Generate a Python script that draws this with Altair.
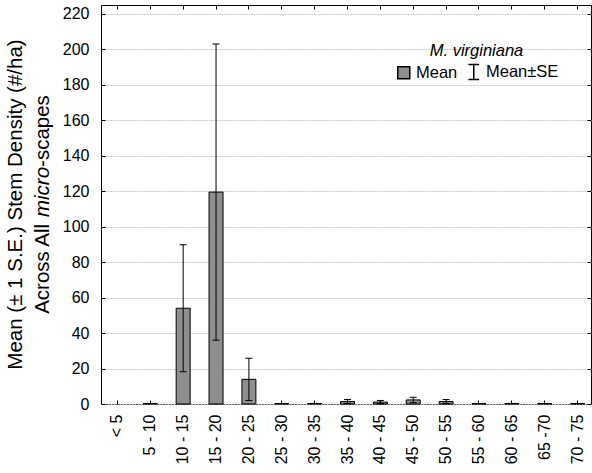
import altair as alt
import pandas as pd

# Diameter classes (cm) and stem density summary for M. virginiana
size_classes = ["< 5", "5 - 10", "10 - 15", "15 - 20", "20 - 25", "25 - 30", "30 - 35",
                "35 - 40", "40 - 45", "45 - 50", "50 - 55", "55 - 60", "60 - 65",
                "65 -70", "70 - 75"]
mean_density = [None, 0.3, 54.0, 119.5, 13.9, 0.3, 0.3, 1.4, 1.1, 2.3, 1.4, 0.3, 0.3, 0.3, 0.3]
se_density = [None, 0.0, 35.8, 83.5, 11.9, 0.0, 0.0, 1.1, 0.9, 1.5, 1.1, 0.0, 0.0, 0.0, 0.0]
y_ticks = [0, 20, 40, 60, 80, 100, 120, 140, 160, 180, 200, 220]
legend_entries = ["Mean", "Mean±SE"]

title_line1 = "Mean (± 1 S.E.) Stem Density (#/ha)"
title_line2 = ["Across All ", "micro", "-scapes"]

FONT = "Liberation Sans"
BAR_FILL = "#8e8e8e"
W, H = 490, 399
TITLE_SIZE = 20.5
# "I"-shaped error bar glyph for the legend
ERR_PATH = "M-0.9,-1.25H0.9M0,-1.25V1.25M-0.9,1.25H0.9"

df = pd.DataFrame({"cls": size_classes, "mean": mean_density, "se": se_density})
df["lo"] = df["mean"] - df["se"]
df["hi"] = df["mean"] + df["se"]

x_scale = alt.Scale(domain=size_classes, range=[0, 493], paddingInner=0, paddingOuter=0)
y_scale = alt.Scale(domain=[0, 225], nice=False, zero=False)

tick_style = dict(tickSize=4, tickColor="black", tickWidth=1, offset=-4, domain=False, title=None)

base = alt.Chart(df)

bars = base.transform_filter("isValid(datum.mean)").mark_bar(
    size=14, fill=BAR_FILL, stroke="black", strokeWidth=1, opacity=1
).encode(
    x=alt.X("cls:N", scale=x_scale, sort=None,
            axis=alt.Axis(orient="bottom", labelAngle=270, labelAlign="right",
                          labelBaseline="middle", labelPadding=10, grid=False,
                          labelFontSize=16, **tick_style)),
    y=alt.Y("mean:Q", scale=y_scale,
            axis=alt.Axis(orient="left", values=y_ticks, labelPadding=12, labelFontSize=16,
                          grid=True, gridDash=[2, 1], gridColor="#c4c4c4", gridWidth=1,
                          **tick_style)),
)

err = base.transform_filter("datum.se > 0")

whiskers = err.mark_rule(color="black", strokeWidth=1, opacity=1).encode(
    x=alt.X("cls:N", scale=x_scale, sort=None, axis=None),
    y=alt.Y("lo:Q", scale=y_scale, axis=None),
    y2="hi:Q",
)

caps_hi = err.mark_tick(color="black", size=7, thickness=1, opacity=1).encode(
    x=alt.X("cls:N", scale=x_scale, sort=None,
            axis=alt.Axis(orient="top", labels=False, grid=False, **tick_style)),
    y=alt.Y("hi:Q", scale=y_scale,
            axis=alt.Axis(orient="right", values=y_ticks, labels=False, grid=False, **tick_style)),
)

caps_lo = err.mark_tick(color="black", size=7, thickness=1, opacity=1).encode(
    x=alt.X("cls:N", scale=x_scale, sort=None, axis=None),
    y=alt.Y("lo:Q", scale=y_scale, axis=None),
)

legend_layer = alt.Chart(pd.DataFrame({"entry": legend_entries})).transform_filter("false").mark_point(
    filled=True, fill=BAR_FILL, stroke="black", strokeWidth=1, size=144, opacity=1
).encode(
    shape=alt.Shape("entry:N",
                    scale=alt.Scale(domain=legend_entries, range=["square", ERR_PATH]),
                    legend=alt.Legend(orient="none", legendX=294.5, legendY=38,
                                      direction="horizontal", title="M. virginiana",
                                      titleFontStyle="italic", titleFontWeight="normal",
                                      titleFontSize=16.5, titleFont=FONT, titleColor="black",
                                      titleAnchor="middle", titlePadding=4,
                                      labelFont=FONT, labelFontSize=16.5, labelColor="black",
                                      labelOffset=4, columnPadding=7, symbolSize=144)),
)

# Two-line rotated y title; the second line mixes upright and italic runs
title1 = alt.Chart(pd.DataFrame({"t": [title_line1]})).mark_text(
    angle=270, align="center", baseline="alphabetic", font=FONT, fontSize=TITLE_SIZE, color="black"
).encode(x=alt.value(-79), y=alt.value(H / 2), text="t:N")

em_widths = [4.723, 2.444, 3.501]
run_len = [w * TITLE_SIZE for w in em_widths]
start = H / 2 + sum(run_len) / 2
title2_layers = []
offset = 0.0
for txt, wlen, style in zip(title_line2, run_len, ["normal", "italic", "normal"]):
    title2_layers.append(
        alt.Chart(pd.DataFrame({"t": [txt]})).mark_text(
            angle=270, align="left", baseline="alphabetic", font=FONT, fontSize=TITLE_SIZE,
            fontStyle=style, color="black"
        ).encode(x=alt.value(-52), y=alt.value(start - offset), text="t:N")
    )
    offset += wlen

chart = alt.layer(
    bars, whiskers, caps_hi, caps_lo, legend_layer, title1, *title2_layers
).resolve_axis(
    x="independent", y="independent"
).properties(
    width=W, height=H,
    padding={"left": 101, "top": 5, "right": 1, "bottom": 69},
    autosize=alt.AutoSizeParams(type="none"),
    background="white",
).configure_view(
    stroke="black", strokeWidth=1
).configure_axis(
    labelFont=FONT, labelColor="black"
)

chart.save("out.html", embed_options={"renderer": "svg", "actions": False})
